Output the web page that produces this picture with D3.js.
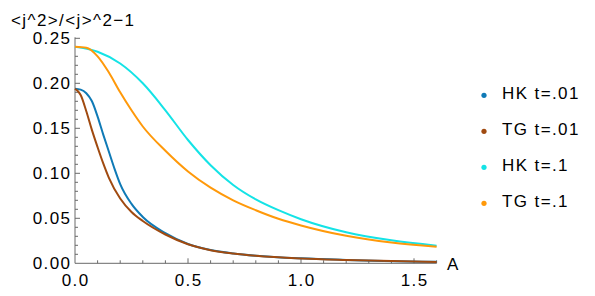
<!DOCTYPE html>
<html>
<head>
<meta charset="utf-8">
<script src="https://cdn.jsdelivr.net/npm/d3@7"></script>
<style>
  html, body { margin: 0; padding: 0; background: #fff; }
  svg { display: block; font-family: "Liberation Sans", Arial, sans-serif; }
</style>
</head>
<body>
<div id="chart"></div>
<script>
// A values (x) and <j^2>/<j>^2-1 (y)
const aHK01 = [0, 0.025, 0.05, 0.075, 0.1, 0.125, 0.15, 0.175, 0.2, 0.25, 0.3, 0.4, 0.5, 0.6, 0.7, 0.8, 1.0, 1.2, 1.6];
const vHK01 = [0.194, 0.193, 0.189, 0.180, 0.163, 0.143, 0.124, 0.105, 0.088, 0.066, 0.0515, 0.0335, 0.0215, 0.0148, 0.011, 0.0085, 0.0055, 0.0037, 0.0016];

const aTG01 = [0, 0.01, 0.025, 0.05, 0.075, 0.1, 0.125, 0.15, 0.2, 0.25, 0.3, 0.4, 0.5, 0.6, 0.7, 0.8, 1.0, 1.2, 1.6];
const vTG01 = [0.194, 0.192, 0.187, 0.169, 0.148, 0.129, 0.111, 0.095, 0.072, 0.057, 0.047, 0.032, 0.0212, 0.0146, 0.0109, 0.0084, 0.0054, 0.0037, 0.0015];

const aHK1 = [0, 0.1, 0.2, 0.3, 0.4, 0.5, 0.6, 0.7, 0.8, 0.9, 1.0, 1.2, 1.4, 1.6];
const vHK1 = [0.2405, 0.235, 0.222, 0.200, 0.170, 0.137, 0.109, 0.087, 0.071, 0.059, 0.049, 0.0345, 0.0255, 0.0196];

const aTG1 = [0, 0.05, 0.1, 0.15, 0.2, 0.25, 0.3, 0.4, 0.5, 0.6, 0.7, 0.8, 0.9, 1.0, 1.2, 1.4, 1.6];
const vTG1 = [0.2405, 0.2395, 0.230, 0.212, 0.190, 0.170, 0.152, 0.125, 0.102, 0.084, 0.070, 0.059, 0.0495, 0.042, 0.0305, 0.023, 0.0185];

const seriesNames = ['HK t=.01', 'TG t=.01', 'HK t=.1', 'TG t=.1'];
const seriesColors = ['#0f7ab6', '#a04a10', '#14e3e6', '#ff990a'];

const xTicks = [0, 0.5, 1.0, 1.5];
const xTickLabels = ['0.0', '0.5', '1.0', '1.5'];
const yTicks = [0, 0.05, 0.10, 0.15, 0.20, 0.25];
const yTickLabels = ['0.00', '0.05', '0.10', '0.15', '0.20', '0.25'];

const width = 595, height = 296;
const axisColor = '#6a6a6a';

const svg = d3.select('#chart').append('svg')
  .attr('width', width)
  .attr('height', height);

const x = d3.scaleLinear().domain([0, 1.6]).range([75, 436.6]);
const y = d3.scaleLinear().domain([0, 0.25]).range([263.3, 38.3]);

// minor ticks
const xMinor = d3.range(0, 1.61, 0.1).map(d => +d.toFixed(2));
const yMinor = d3.range(0, 0.251, 0.01).map(d => +d.toFixed(3));

const axes = svg.append('g').attr('stroke', axisColor).attr('stroke-width', 1);

axes.selectAll('.xminor')
  .data(xMinor.filter(d => !xTicks.includes(d)))
  .enter().append('line')
  .attr('x1', d => x(d)).attr('x2', d => x(d))
  .attr('y1', y(0)).attr('y2', y(0) - 3);

axes.selectAll('.xmajor')
  .data(xTicks.filter(d => d > 0))
  .enter().append('line')
  .attr('x1', d => x(d)).attr('x2', d => x(d))
  .attr('y1', y(0)).attr('y2', y(0) - 5);

axes.selectAll('.yminor')
  .data(yMinor.filter(d => !yTicks.some(t => Math.abs(t - d) < 1e-6)))
  .enter().append('line')
  .attr('x1', x(0)).attr('x2', x(0) + 3)
  .attr('y1', d => y(d)).attr('y2', d => y(d));

axes.selectAll('.ymajor')
  .data(yTicks.filter(d => d > 0))
  .enter().append('line')
  .attr('x1', x(0)).attr('x2', x(0) + 5)
  .attr('y1', d => y(d)).attr('y2', d => y(d));

// axis lines
axes.append('line')
  .attr('x1', x(0)).attr('x2', x(1.6))
  .attr('y1', y(0)).attr('y2', y(0));
axes.append('line')
  .attr('x1', x(0)).attr('x2', x(0))
  .attr('y1', y(0)).attr('y2', y(0.25) - 1);

// tick labels
svg.selectAll('.xlab')
  .data(xTicks)
  .enter().append('text')
  .attr('x', d => x(d) + 0.7)
  .attr('y', 286)
  .attr('text-anchor', 'middle')
  .style('font-size', '17px')
  .style('letter-spacing', '1.4px')
  .text((d, i) => xTickLabels[i]);

svg.selectAll('.ylab')
  .data(yTicks)
  .enter().append('text')
  .attr('x', 71.4)
  .attr('y', d => y(d) + 6)
  .attr('text-anchor', 'end')
  .style('font-size', '17px')
  .style('letter-spacing', '1.4px')
  .text((d, i) => yTickLabels[i]);

// axis titles
svg.append('text')
  .attr('x', 11)
  .attr('y', 26)
  .style('font-size', '17px')
  .style('letter-spacing', '1.4px')
  .text('<j^2>/<j>^2\u22121');

svg.append('text')
  .attr('x', 447)
  .attr('y', 270)
  .style('font-size', '17px')
  .text('A');

// curves
const series = [
  { a: aHK01, v: vHK01 },
  { a: aTG01, v: vTG01 },
  { a: aHK1, v: vHK1 },
  { a: aTG1, v: vTG1 }
];

const line = d3.line()
  .x(d => x(d[0]))
  .y(d => y(d[1]))
  .curve(d3.curveMonotoneX);

series.forEach((s, i) => {
  svg.append('path')
    .datum(s.a.map((a, k) => [a, s.v[k]]))
    .attr('fill', 'none')
    .attr('stroke', seriesColors[i])
    .attr('stroke-width', 2)
    .attr('d', line);
});

// legend
const legend = svg.append('g');
seriesNames.forEach((name, i) => {
  const cy = 95.3 + i * 36;
  legend.append('circle')
    .attr('cx', 484)
    .attr('cy', cy)
    .attr('r', 2.6)
    .attr('fill', seriesColors[i]);
  legend.append('text')
    .attr('x', 502)
    .attr('y', cy + 4)
    .style('font-size', '17px')
    .style('letter-spacing', '1.4px')
    .text(name);
});
</script>
</body>
</html>
